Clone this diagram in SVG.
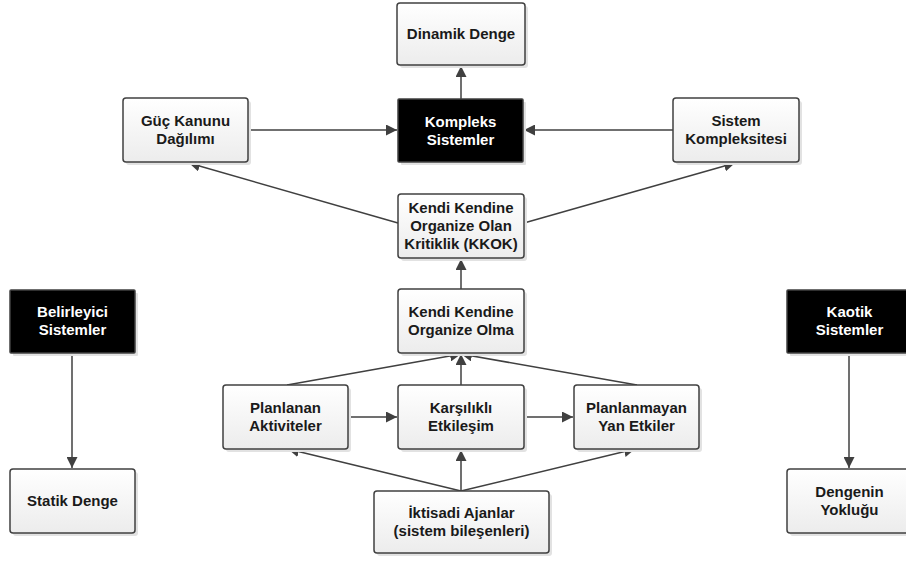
<svg xmlns="http://www.w3.org/2000/svg" width="906" height="561" viewBox="0 0 906 561">
  <defs>
    <linearGradient id="boxFill" x1="0" y1="0" x2="0" y2="1">
      <stop offset="0" stop-color="#ffffff"/>
      <stop offset="1" stop-color="#ececec"/>
    </linearGradient>
    <marker id="arrow" viewBox="0 0 10 10" refX="10" refY="5" markerWidth="11" markerHeight="11" markerUnits="userSpaceOnUse" orient="auto">
      <path d="M0,0 L10,5 L0,10 Z" fill="#404040"/>
    </marker>
    <style>
      .shadow { fill: #e2e2e2; }
      .box { fill: url(#boxFill); stroke: #404040; stroke-width: 1.5; }
      .dark { fill: #000000; stroke: #404040; stroke-width: 1.5; }
      .label { font-family: "Liberation Sans", Arial, sans-serif; font-weight: bold; font-size: 15px; fill: #1a1a1a; text-anchor: middle; }
      .light { fill: #ffffff; }
      .link { stroke: #404040; stroke-width: 1.5; fill: none; marker-end: url(#arrow); }
    </style>
  </defs>

  <!-- connectors -->
  <g id="connectors">
    <line class="link" x1="461" y1="99" x2="461" y2="66"/>
    <line class="link" x1="248" y1="130" x2="397" y2="130"/>
    <line class="link" x1="673" y1="130" x2="524" y2="130"/>
    <line class="link" x1="398" y1="223" x2="189" y2="163"/>
    <line class="link" x1="524" y1="223" x2="735" y2="163"/>
    <line class="link" x1="461" y1="289" x2="461" y2="259"/>
    <line class="link" x1="287" y1="385" x2="461" y2="354"/>
    <line class="link" x1="637" y1="385" x2="461" y2="354"/>
    <line class="link" x1="461" y1="385" x2="461" y2="354"/>
    <line class="link" x1="348" y1="417" x2="397" y2="417"/>
    <line class="link" x1="524" y1="417" x2="573" y2="417"/>
    <line class="link" x1="461" y1="491" x2="288" y2="449"/>
    <line class="link" x1="461" y1="491" x2="461" y2="450"/>
    <line class="link" x1="461" y1="491" x2="635" y2="449"/>
    <line class="link" x1="72" y1="353" x2="72" y2="468"/>
    <line class="link" x1="849" y1="353" x2="849" y2="468"/>
  </g>

  <g id="dinamik-denge">
    <rect class="shadow" x="400" y="6" width="128" height="62" rx="3"/>
    <rect class="box" x="397" y="3" width="128" height="62" rx="3"/>
    <text class="label" x="461" y="39">Dinamik Denge</text>
  </g>

  <g id="guc-kanunu">
    <rect class="shadow" x="126" y="101" width="125" height="64" rx="3"/>
    <rect class="box" x="123" y="98" width="125" height="64" rx="3"/>
    <text class="label" x="185.5" y="126">Güç Kanunu</text>
    <text class="label" x="185.5" y="144">Dağılımı</text>
  </g>

  <g id="kompleks-sistemler">
    <rect class="shadow" x="401" y="102" width="125" height="63" rx="1"/>
    <rect class="dark" x="398" y="99" width="125" height="63" rx="1"/>
    <text class="label light" x="460.5" y="127">Kompleks</text>
    <text class="label light" x="460.5" y="145">Sistemler</text>
  </g>

  <g id="sistem-kompleksitesi">
    <rect class="shadow" x="676" y="101" width="126" height="64" rx="3"/>
    <rect class="box" x="673" y="98" width="126" height="64" rx="3"/>
    <text class="label" x="736" y="126">Sistem</text>
    <text class="label" x="736" y="144">Kompleksitesi</text>
  </g>

  <g id="kkok">
    <rect class="shadow" x="401" y="197" width="126" height="64" rx="3"/>
    <rect class="box" x="398" y="194" width="126" height="64" rx="3"/>
    <text class="label" x="461" y="213">Kendi Kendine</text>
    <text class="label" x="461" y="231">Organize Olan</text>
    <text class="label" x="461" y="249">Kritiklik (KKOK)</text>
  </g>

  <g id="kendi-organize-olma">
    <rect class="shadow" x="401" y="292" width="126" height="64" rx="3"/>
    <rect class="box" x="398" y="289" width="126" height="64" rx="3"/>
    <text class="label" x="461" y="317">Kendi Kendine</text>
    <text class="label" x="461" y="335">Organize Olma</text>
  </g>

  <g id="planlanan-aktiviteler">
    <rect class="shadow" x="226" y="388" width="125" height="64" rx="3"/>
    <rect class="box" x="223" y="385" width="125" height="64" rx="3"/>
    <text class="label" x="285.5" y="413">Planlanan</text>
    <text class="label" x="285.5" y="431">Aktiviteler</text>
  </g>

  <g id="karsilikli-etkilesim">
    <rect class="shadow" x="401" y="388" width="126" height="64" rx="3"/>
    <rect class="box" x="398" y="385" width="126" height="64" rx="3"/>
    <text class="label" x="461" y="413">Karşılıklı</text>
    <text class="label" x="461" y="431">Etkileşim</text>
  </g>

  <g id="planlanmayan-yan-etkiler">
    <rect class="shadow" x="577" y="388" width="125" height="64" rx="3"/>
    <rect class="box" x="574" y="385" width="125" height="64" rx="3"/>
    <text class="label" x="636.5" y="413">Planlanmayan</text>
    <text class="label" x="636.5" y="431">Yan Etkiler</text>
  </g>

  <g id="iktisadi-ajanlar">
    <rect class="shadow" x="377" y="494" width="175" height="62" rx="3"/>
    <rect class="box" x="374" y="491" width="175" height="62" rx="3"/>
    <text class="label" x="461.5" y="518">İktisadi Ajanlar</text>
    <text class="label" x="461.5" y="536">(sistem bileşenleri)</text>
  </g>

  <g id="belirleyici-sistemler">
    <rect class="shadow" x="13" y="293" width="125" height="63" rx="1"/>
    <rect class="dark" x="10" y="290" width="125" height="63" rx="1"/>
    <text class="label light" x="72.5" y="317">Belirleyici</text>
    <text class="label light" x="72.5" y="335">Sistemler</text>
  </g>

  <g id="statik-denge">
    <rect class="shadow" x="13" y="472" width="125" height="64" rx="3"/>
    <rect class="box" x="10" y="469" width="125" height="64" rx="3"/>
    <text class="label" x="72.5" y="506">Statik Denge</text>
  </g>

  <g id="kaotik-sistemler">
    <rect class="shadow" x="790" y="293" width="125" height="63" rx="1"/>
    <rect class="dark" x="787" y="290" width="125" height="63" rx="1"/>
    <text class="label light" x="849.5" y="317">Kaotik</text>
    <text class="label light" x="849.5" y="335">Sistemler</text>
  </g>

  <g id="dengenin-yoklugu">
    <rect class="shadow" x="790" y="472" width="125" height="64" rx="3"/>
    <rect class="box" x="787" y="469" width="125" height="64" rx="3"/>
    <text class="label" x="849.5" y="497">Dengenin</text>
    <text class="label" x="849.5" y="515">Yokluğu</text>
  </g>
</svg>
